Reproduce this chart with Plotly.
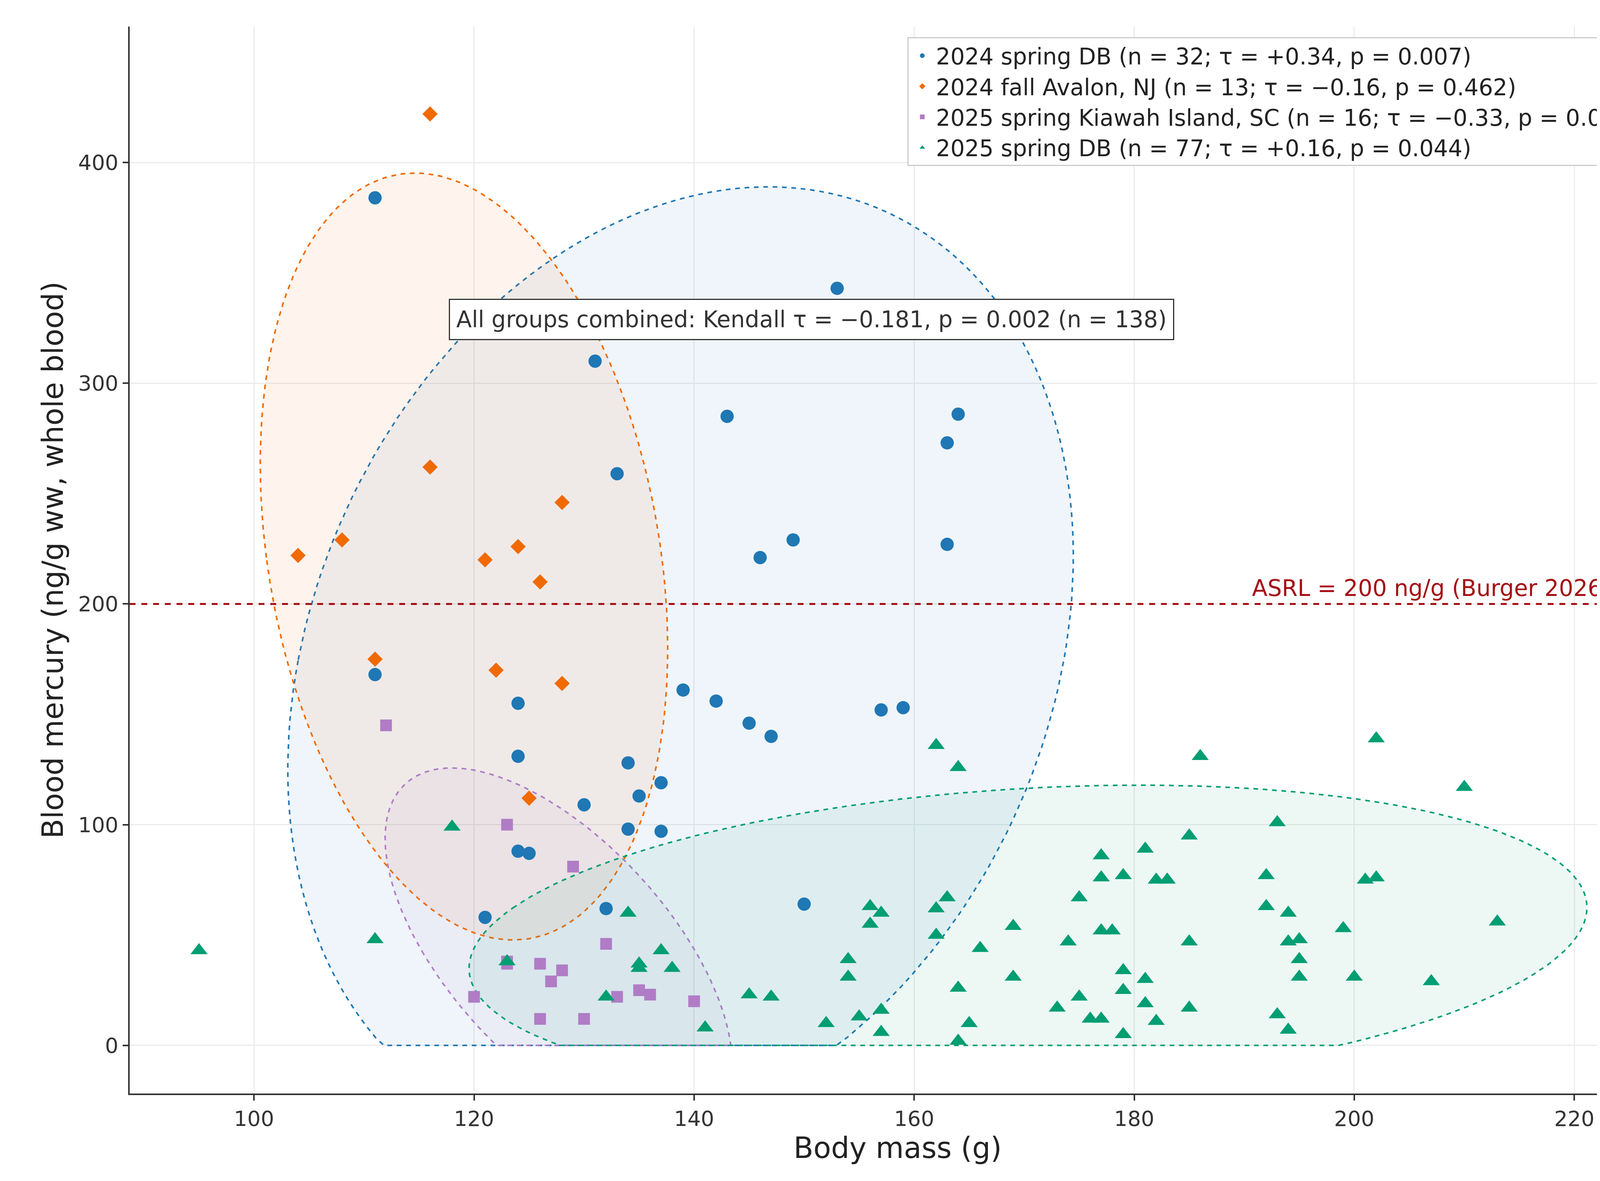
import numpy as np
import plotly.graph_objects as go

# Data (body mass g, blood Hg ng/g)
spring24_mass = [111, 131, 143, 164, 163, 133, 149, 146, 163, 111, 139, 142, 124, 157, 159, 145,
                 147, 124, 134, 137, 135, 130, 134, 137, 124, 125, 150, 132, 121, 153]
spring24_hg = [384, 310, 285, 286, 273, 259, 229, 221, 227, 168, 161, 156, 155, 152, 153, 146,
               140, 131, 128, 119, 113, 109, 98, 97, 88, 87, 64, 62, 58, 343]

fall24_mass = [116, 116, 104, 108, 128, 121, 124, 126, 111, 122, 128, 125]
fall24_hg = [422, 262, 222, 229, 246, 220, 226, 210, 175, 170, 164, 112]

kiawah_mass = [112, 123, 129, 132, 123, 126, 128, 127, 120, 135, 136, 133, 140, 126, 130, 123]
kiawah_hg = [145, 100, 81, 46, 37, 37, 34, 29, 22, 25, 23, 22, 20, 12, 12, 38]

spring25_mass = [95, 111, 118, 123, 132, 134, 135, 135, 137, 138, 141, 145, 147, 152, 154, 154,
                 155, 156, 156, 157, 157, 157, 162, 162, 162, 163, 164, 164, 164, 165, 166, 169,
                 169, 173, 174, 175, 175, 176, 177, 177, 177, 177, 178, 179, 179, 179, 179, 181,
                 181, 181, 182, 182, 183, 185, 185, 185, 186, 192, 192, 193, 193, 194, 194, 194,
                 195, 195, 195, 199, 200, 201, 202, 202, 207, 210, 213]
spring25_hg = [43, 48, 99, 38, 22, 60, 37, 35, 43, 35, 8, 23, 22, 10, 39, 31,
               13, 63, 55, 60, 16, 6, 136, 62, 50, 67, 126, 26, 2, 10, 44, 54,
               31, 17, 47, 67, 22, 12, 86, 76, 52, 12, 52, 77, 34, 25, 5, 89,
               30, 19, 75, 11, 75, 95, 47, 17, 131, 77, 63, 101, 14, 60, 47, 7,
               48, 39, 31, 53, 31, 75, 139, 76, 29, 117, 56]

groups = [
    ("2024 spring DB (n = 32; τ = +0.34, p = 0.007)", spring24_mass, spring24_hg, "#1f77b4", "circle", 34, 2.45),
    ("2024 fall Avalon, NJ (n = 13; τ = −0.16, p = 0.462)", fall24_mass, fall24_hg, "#f06a00", "diamond", 30, 2.3),
    ("2025 spring Kiawah Island, SC (n = 16; τ = −0.33, p = 0.078)", kiawah_mass, kiawah_hg, "#b07cc6", "square", 30, 2.3),
    ("2025 spring DB (n = 77; τ = +0.16, p = 0.044)", spring25_mass, spring25_hg, "#009e73", "triangle-up", 38, 2.1),
]


def ellipse(x, y, n_std=2.45, npts=200):
    x, y = np.asarray(x, float), np.asarray(y, float)
    cov = np.cov(x, y)
    vals, vecs = np.linalg.eigh(cov)
    t = np.linspace(0, 2 * np.pi, npts)
    circ = np.vstack([np.cos(t), np.sin(t)]) * (n_std * np.sqrt(vals))[:, None]
    pts = vecs @ circ
    return pts[0] + x.mean(), np.clip(pts[1] + y.mean(), 0, None)


def rgba(hexc, a):
    h = hexc.lstrip("#")
    return f"rgba({int(h[0:2],16)},{int(h[2:4],16)},{int(h[4:6],16)},{a})"


fig = go.Figure()

for name, xs, ys, col, sym, sz, k in groups:
    ex, ey = ellipse(xs, ys, k)
    fig.add_trace(go.Scatter(x=ex, y=ey, mode="lines", fill="toself",
                             fillcolor=rgba(col, 0.07), line=dict(color=col, width=4, dash="dash"),
                             showlegend=False, hoverinfo="skip"))

for name, xs, ys, col, sym, sz, k in groups:
    fig.add_trace(go.Scatter(x=xs, y=ys, mode="markers", name=name,
                             marker=dict(color=col, symbol=sym, size=sz, line=dict(width=0))))

fig.add_hline(y=200, line=dict(color="#a50f15", width=5, dash="dash"))
fig.add_annotation(x=207, y=200, text="ASRL = 200 ng/g (Burger 2026)", showarrow=False,
                   xanchor="center", yanchor="bottom", yshift=4,
                   font=dict(size=58, color="#a50f15"))
fig.add_annotation(xref="paper", yref="paper", x=0.68, y=0.745,
                   text="All groups combined: Kendall τ = −0.181, p = 0.002 (n = 138)",
                   showarrow=False, font=dict(size=58, color="#333333"),
                   bgcolor="white", bordercolor="#333333", borderwidth=3, borderpad=16)

axis_common = dict(showgrid=True, gridcolor="#ebebeb", gridwidth=3, zeroline=False,
                   showline=True, linecolor="#333333", linewidth=4, ticks="outside",
                   ticklen=14, tickwidth=4, tickcolor="#333333",
                   tickfont=dict(size=54, color="#333333"), mirror=False)

fig.update_layout(
    width=4278, height=3024,
    plot_bgcolor="white", paper_bgcolor="white",
    font=dict(family="DejaVu Sans", color="#222222"),
    margin=dict(l=324, r=22, t=60, b=232),
    xaxis=dict(range=[88.7, 228.3], dtick=20, title=dict(text="Body mass (g)", font=dict(size=74)),
               **axis_common),
    yaxis=dict(range=[-21.8, 461.6], dtick=100, title=dict(text="Blood mercury (ng/g ww, whole blood)",
               font=dict(size=74)), **axis_common),
    legend=dict(x=0.985, y=0.99, xanchor="right", yanchor="top", bgcolor="white",
                bordercolor="#cccccc", borderwidth=3, font=dict(size=58, color="#222222"),
                itemsizing="constant", tracegroupgap=30, itemwidth=60),
)

fig.write_html("out.html")
